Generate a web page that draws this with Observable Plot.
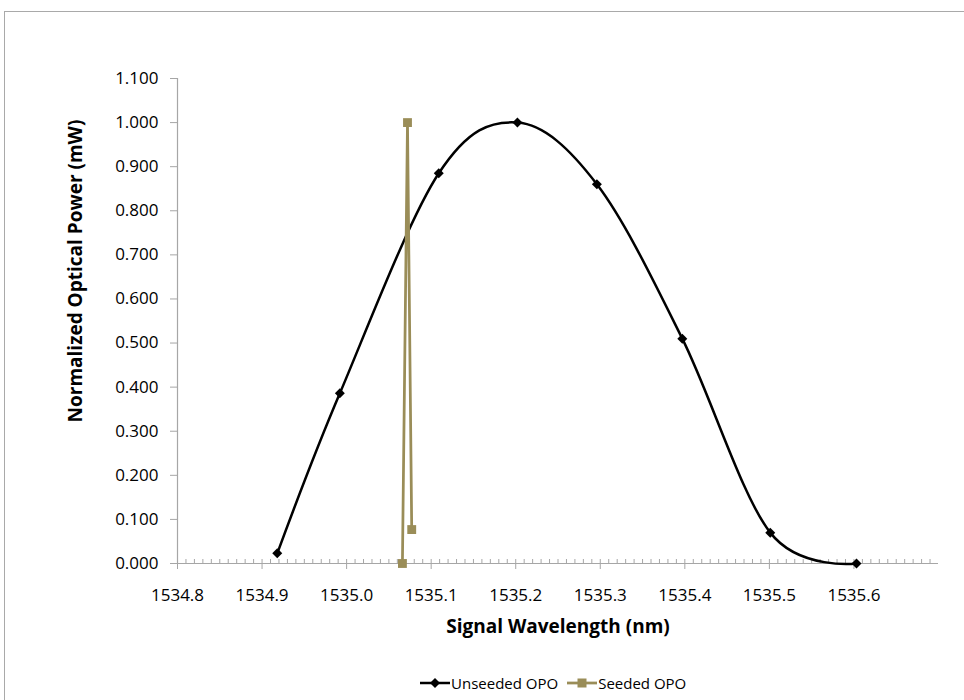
<!DOCTYPE html>
<html>
<head>
<meta charset="utf-8">
<script src="https://cdn.jsdelivr.net/npm/d3@7"></script>
<script src="https://cdn.jsdelivr.net/npm/@observablehq/plot@0.6"></script>
<style>
  body { margin: 0; background: #fff; font-family: "Open Sans", sans-serif; }
  #frame { position: absolute; left: 4px; top: 11px; width: 1000px; height: 760px; border: 1.5px solid #a9a9a9; box-sizing: border-box; }
  #chart { position: absolute; left: 0; top: 0; }
  #legend { position: absolute; top: 672px; left: 420px; height: 22px; display: flex; align-items: center; font-size: 15px; color: #000; white-space: nowrap; }
  #legend .item { display: flex; align-items: center; margin-right: 9px; }
  #legend svg { display: block; margin-right: 1px; }
</style>
</head>
<body>
<div id="frame"></div>
<div id="chart"></div>
<div id="legend"></div>
<script>
// ---- data ----
const unseededX = [1534.918, 1534.992, 1535.109, 1535.202, 1535.296, 1535.397, 1535.501, 1535.603];
const unseededY = [0.023, 0.386, 0.885, 1.000, 0.860, 0.510, 0.070, 0.000];
const seededX = [1535.066, 1535.072, 1535.077];
const seededY = [0.000, 1.000, 0.077];
const xTickLabels = ["1534.8", "1534.9", "1535.0", "1535.1", "1535.2", "1535.3", "1535.4", "1535.5", "1535.6"];
const yTickLabels = ["0.000", "0.100", "0.200", "0.300", "0.400", "0.500", "0.600", "0.700", "0.800", "0.900", "1.000", "1.100"];
const seriesNames = ["Unseeded OPO", "Seeded OPO"];
const seriesColors = ["#000000", "#9a8d58"];
const xTitle = "Signal Wavelength (nm)";
const yTitle = "Normalized Optical Power (mW)";

const unseeded = unseededX.map((x, i) => ({x, y: unseededY[i]}));
const seeded = seededX.map((x, i) => ({x, y: seededY[i]}));
const xTicks = xTickLabels.map(Number);
const yTicks = yTickLabels.map(Number);
const minorTicks = d3.range(0, 90).map(i => +(1534.8 + i * 0.01).toFixed(2));

const axisGray = "#a6a6a6";

const chart = Plot.plot({
  width: 964,
  height: 660,
  marginTop: 78,
  marginBottom: 97,
  marginLeft: 177,
  marginRight: 26,
  style: { fontFamily: "Open Sans", fontSize: "17px", background: "transparent", color: "#000" },
  x: { domain: [1534.8, 1535.7] },
  y: { domain: [0, 1.1] },
  marks: [
    Plot.ruleX(minorTicks, { y1: 0, y2: 0, insetBottom: 4, stroke: axisGray, strokeWidth: 1 }),
    Plot.axisX({ ticks: xTicks, tickFormat: d3.format(".1f"), tickSize: 6, tickPadding: 19, stroke: axisGray, fill: "#000", label: null }),
    Plot.axisY({ ticks: yTicks, tickFormat: d3.format(".3f"), tickSize: 7, tickPadding: 12, stroke: axisGray, fill: "#000", label: null }),
    Plot.ruleY([0], { stroke: axisGray, strokeWidth: 1.2 }),
    Plot.ruleX([1534.8], { stroke: axisGray, strokeWidth: 1.2 }),
    Plot.line(unseeded, { x: "x", y: "y", stroke: seriesColors[0], strokeWidth: 2.5, curve: "cardinal" }),
    Plot.dot(unseeded, { x: "x", y: "y", symbol: "diamond2", r: 4.5, fill: seriesColors[0], stroke: "none" }),
    Plot.line(seeded, { x: "x", y: "y", stroke: seriesColors[1], strokeWidth: 2.75 }),
    Plot.dot(seeded, { x: "x", y: "y", symbol: "square", r: 5, fill: seriesColors[1], stroke: "none" }),
    Plot.text([xTitle], { frameAnchor: "bottom", dy: 69, textAnchor: "middle", fontWeight: "bold", fontSize: 19 }),
    Plot.text([yTitle], { frameAnchor: "left", dx: -102, dy: -50, rotate: -90, textAnchor: "middle", fontWeight: "bold", fontSize: 19 })
  ]
});
document.getElementById("chart").appendChild(chart);

// ---- legend ----
const legend = d3.select("#legend");
seriesNames.forEach((name, i) => {
  const item = legend.append("div").attr("class", "item");
  const s = item.append("svg").attr("width", 30).attr("height", 14);
  s.append("line").attr("x1", 0).attr("x2", 30).attr("y1", 7).attr("y2", 7)
    .attr("stroke", seriesColors[i]).attr("stroke-width", i === 0 ? 2.5 : 2.75);
  if (i === 0) {
    s.append("path").attr("d", "M15,2L20,7L15,12L10,7Z").attr("fill", seriesColors[i]);
  } else {
    s.append("rect").attr("x", 10.5).attr("y", 2.5).attr("width", 9).attr("height", 9).attr("fill", seriesColors[i]);
  }
  item.append("span").text(name);
});
</script>
</body>
</html>
